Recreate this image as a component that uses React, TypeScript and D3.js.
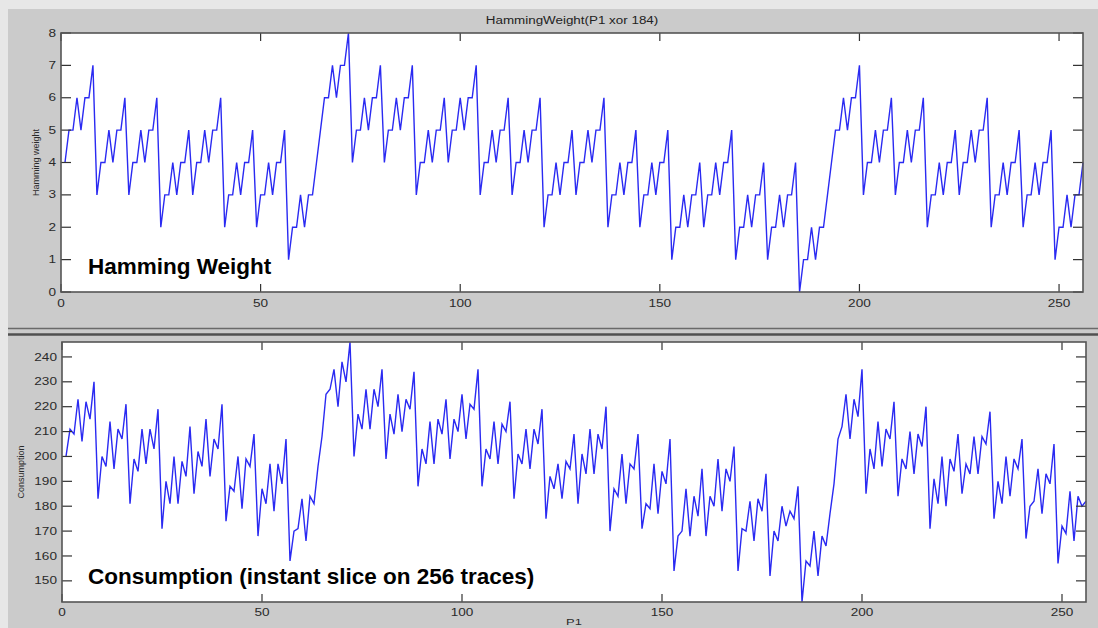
import React from 'react';
import * as d3 from 'd3';

// HammingWeight(P1 xor 184), P1 = 1..256 on the x axis
const hammingWeight = [
  4, 5, 5, 6, 5, 6, 6, 7, 3, 4, 4, 5, 4, 5, 5, 6,
  3, 4, 4, 5, 4, 5, 5, 6, 2, 3, 3, 4, 3, 4, 4, 5,
  3, 4, 4, 5, 4, 5, 5, 6, 2, 3, 3, 4, 3, 4, 4, 5,
  2, 3, 3, 4, 3, 4, 4, 5, 1, 2, 2, 3, 2, 3, 3, 4,
  5, 6, 6, 7, 6, 7, 7, 8, 4, 5, 5, 6, 5, 6, 6, 7,
  4, 5, 5, 6, 5, 6, 6, 7, 3, 4, 4, 5, 4, 5, 5, 6,
  4, 5, 5, 6, 5, 6, 6, 7, 3, 4, 4, 5, 4, 5, 5, 6,
  3, 4, 4, 5, 4, 5, 5, 6, 2, 3, 3, 4, 3, 4, 4, 5,
  3, 4, 4, 5, 4, 5, 5, 6, 2, 3, 3, 4, 3, 4, 4, 5,
  2, 3, 3, 4, 3, 4, 4, 5, 1, 2, 2, 3, 2, 3, 3, 4,
  2, 3, 3, 4, 3, 4, 4, 5, 1, 2, 2, 3, 2, 3, 3, 4,
  1, 2, 2, 3, 2, 3, 3, 4, 0, 1, 1, 2, 1, 2, 2, 3,
  4, 5, 5, 6, 5, 6, 6, 7, 3, 4, 4, 5, 4, 5, 5, 6,
  3, 4, 4, 5, 4, 5, 5, 6, 2, 3, 3, 4, 3, 4, 4, 5,
  3, 4, 4, 5, 4, 5, 5, 6, 2, 3, 3, 4, 3, 4, 4, 5,
  2, 3, 3, 4, 3, 4, 4, 5, 1, 2, 2, 3, 2, 3, 3, 4,
];

// consumption
const consumption = [
  200, 211, 209, 223, 206, 222, 215, 230, 183, 200, 196, 214, 195, 211, 207, 221,
  181, 199, 194, 211, 197, 211, 203, 219, 171, 190, 181, 200, 181, 198, 192, 212,
  185, 202, 196, 215, 192, 207, 203, 221, 174, 188, 186, 200, 179, 199, 196, 209,
  168, 187, 181, 197, 178, 197, 189, 207, 158, 170, 171, 183, 166, 184, 181, 196,
  208, 225, 227, 235, 220, 238, 230, 246, 200, 217, 211, 227, 211, 227, 220, 235,
  199, 217, 209, 225, 210, 223, 219, 234, 188, 203, 197, 214, 197, 215, 209, 223,
  199, 215, 210, 225, 207, 221, 219, 235, 188, 203, 199, 214, 197, 213, 210, 222,
  183, 201, 197, 211, 195, 211, 205, 219, 175, 192, 187, 197, 183, 198, 195, 209,
  181, 201, 193, 211, 193, 209, 203, 220, 170, 187, 184, 201, 181, 197, 195, 209,
  171, 181, 179, 197, 177, 194, 189, 207, 154, 168, 170, 187, 168, 184, 176, 195,
  168, 184, 180, 199, 178, 195, 190, 204, 154, 171, 170, 182, 166, 183, 178, 193,
  152, 170, 166, 180, 172, 178, 175, 188, 141.5, 158, 156, 170, 152, 168, 164, 177,
  189, 207, 212, 225, 207, 223, 216, 235, 185, 203, 195, 214, 196, 211, 207, 222,
  184, 199, 195, 210, 193, 209, 204, 220, 171, 191, 181, 200, 180, 199, 194, 209,
  185, 197, 193, 208, 193, 208, 205, 218, 175, 190, 181, 200, 184, 199, 195, 207,
  167, 180, 182, 195, 177, 193, 189, 205, 157, 172, 169, 186, 166, 184, 180, 182,
];

const xTicks = [0, 50, 100, 150, 200, 250];
const hwTicks = [0, 1, 2, 3, 4, 5, 6, 7, 8];
const consTicks = [150, 160, 170, 180, 190, 200, 210, 220, 230, 240];

const W = 1098;
const H = 628;
const LABEL_FONT = '"Liberation Sans", Arial, sans-serif';
const STRETCH = 1.36; // the screenshot is stretched sideways

type Box = { left: number; right: number; top: number; bottom: number };

function Panel({
  values,
  yTicks,
  box,
  yLabel,
  yLabelX,
  note,
  xLabelY,
}: {
  values: number[];
  yTicks: number[];
  box: Box;
  yLabel: string;
  yLabelX: number;
  note: string;
  xLabelY: number;
}) {
  const x = d3.scaleLinear().domain([0, 256]).range([box.left, box.right]);
  const y = d3
    .scaleLinear()
    .domain(d3.extent(values) as [number, number])
    .range([box.bottom, box.top]);

  const line = d3
    .line<number>()
    .x((_, i) => x(i + 1))
    .y((d) => y(d));

  const midY = (box.top + box.bottom) / 2;

  return (
    <g>
      <rect
        x={box.left}
        y={box.top}
        width={box.right - box.left}
        height={box.bottom - box.top}
        fill="#fff"
      />
      <path d={line(values) || ''} fill="none" stroke="#2a2af2" strokeWidth={1.4} />

      {/* ticks, inside on all four sides */}
      {xTicks.map((t) => (
        <g key={'x' + t}>
          <line x1={x(t)} x2={x(t)} y1={box.bottom} y2={box.bottom - 8} stroke="#333" strokeWidth={1.2} />
          <line x1={x(t)} x2={x(t)} y1={box.top} y2={box.top + 8} stroke="#333" strokeWidth={1.2} />
          <text
            transform={`translate(${x(t)},${xLabelY}) scale(${STRETCH},1)`}
            textAnchor="middle"
            fontFamily={LABEL_FONT}
            fontSize={10}
            fill="#2a2a2a"
          >
            {t}
          </text>
        </g>
      ))}
      {yTicks.map((t) => (
        <g key={'y' + t}>
          <line x1={box.left} x2={box.left + 10} y1={y(t)} y2={y(t)} stroke="#333" strokeWidth={1.2} />
          <line x1={box.right} x2={box.right - 10} y1={y(t)} y2={y(t)} stroke="#333" strokeWidth={1.2} />
          <text
            transform={`translate(${box.left - 5},${y(t) + 3.6}) scale(${STRETCH},1)`}
            textAnchor="end"
            fontFamily={LABEL_FONT}
            fontSize={10}
            fill="#2a2a2a"
          >
            {t}
          </text>
        </g>
      ))}

      <rect
        x={box.left}
        y={box.top}
        width={box.right - box.left}
        height={box.bottom - box.top}
        fill="none"
        stroke="#555"
        strokeWidth={1.6}
      />

      <text
        transform={`translate(${yLabelX},${midY}) rotate(-90)`}
        textAnchor="middle"
        fontFamily={LABEL_FONT}
        fontSize={9}
        fill="#2a2a2a"
      >
        {yLabel}
      </text>

      <text
        x={88}
        y={box.bottom - 18.5}
        fontFamily={LABEL_FONT}
        fontWeight="bold"
        fontSize={22.5}
        fill="#000"
      >
        {note}
      </text>
    </g>
  );
}

export default function App() {
  const topBox: Box = { left: 61, right: 1083, top: 33, bottom: 292 };
  const botBox: Box = { left: 62, right: 1086, top: 342, bottom: 602 };

  return (
    <svg
      width={W}
      height={H}
      style={{ position: 'absolute', left: 0, top: 0, display: 'block' }}
    >
      <rect x={0} y={0} width={W} height={H} fill="#e7e7e7" />
      <rect x={8} y={9} width={W - 8} height={H - 9} fill="#cbcbcb" />

      <text
        transform={`translate(${(topBox.left + topBox.right) / 2},24) scale(1.22,1)`}
        textAnchor="middle"
        fontFamily={LABEL_FONT}
        fontSize={11}
        fill="#222"
      >
        HammingWeight(P1 xor 184)
      </text>

      <Panel
        values={hammingWeight}
        yTicks={hwTicks}
        box={topBox}
        yLabel="Hamming weight"
        yLabelX={39}
        note="Hamming Weight"
        xLabelY={307}
      />

      {/* splitter between the two axes */}
      <line x1={8} x2={W} y1={328.5} y2={328.5} stroke="#6a6a6a" strokeWidth={1.5} />
      <line x1={8} x2={W} y1={334.5} y2={334.5} stroke="#505050" strokeWidth={2.5} />

      <Panel
        values={consumption}
        yTicks={consTicks}
        box={botBox}
        yLabel="Consumption"
        yLabelX={24}
        note="Consumption (instant slice on 256 traces)"
        xLabelY={616}
      />

      <text
        transform={`translate(${(botBox.left + botBox.right) / 2},625) scale(${STRETCH},1)`}
        textAnchor="middle"
        fontFamily={LABEL_FONT}
        fontSize={9.5}
        fill="#2a2a2a"
      >
        P1
      </text>
    </svg>
  );
}
